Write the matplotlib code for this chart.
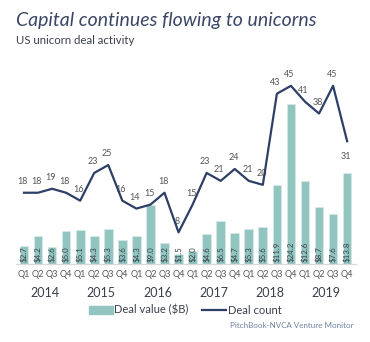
import numpy as np
import matplotlib
matplotlib.use("Agg")
import matplotlib.pyplot as plt
import matplotlib.transforms as mtransforms
from matplotlib.patches import Patch
from matplotlib.lines import Line2D

years = ["2014", "2015", "2016", "2017", "2018", "2019"]
quarters = ["Q1", "Q2", "Q3", "Q4"] * len(years)
deal_value = [2.7, 4.2, 2.6, 5.0, 5.1, 4.3, 5.3, 3.6, 4.3, 9.0, 3.2, 1.5,
              2.0, 4.6, 6.5, 4.7, 5.3, 5.6, 11.9, 24.2, 12.6, 8.7, 7.6, 13.8]
deal_count = [18, 18, 19, 18, 16, 23, 25, 16, 14, 15, 18, 8,
              15, 23, 21, 24, 21, 20, 43, 45, 41, 38, 45, 31]

BAR = "#92c4c0"
LINE = "#2d3f66"
TEXT = "#3a3f4a"

plt.rcParams["font.family"] = ["Lato", "DejaVu Sans"]

fig = plt.figure(figsize=(3.7, 3.42), dpi=100)
ax = fig.add_axes([0.042, 0.228, 0.919, 0.579])
ax2 = ax.twinx()

x = np.arange(len(deal_value))
ax.bar(x, deal_value, width=0.62, color=BAR, edgecolor="#d8ecea", linewidth=0.4, zorder=2)
for xi, v in zip(x, deal_value):
    ax.text(xi, 0.3, f"${v:.1f}", rotation=90, ha="center", va="bottom",
            fontsize=5.8, color=TEXT, zorder=3)

ax2.plot(x, deal_count, color=LINE, lw=1.6, zorder=4)
for i, (xi, c) in enumerate(zip(x, deal_count)):
    dy = -11 if i == len(deal_count) - 1 else 8
    ax2.annotate(str(c), (xi, c), xytext=(-1, dy), textcoords="offset points",
                 ha="center", va="center", fontsize=6.5, color="#555555")

ax.set_xlim(-0.6, len(x) - 0.4)
ax.set_ylim(0, 30)
ax2.set_ylim(0, 50)
ax.set_xticks(x)
ax.set_xticklabels(quarters, fontsize=6.6, color="#555555")
ax.tick_params(axis="x", length=0, pad=4)
ax.set_yticks([])
ax2.set_yticks([])
for a in (ax, ax2):
    for s in ("top", "left", "right"):
        a.spines[s].set_visible(False)
    a.spines["bottom"].set_color("#d9d9d9")
    a.spines["bottom"].set_linewidth(0.8)
    a.patch.set_visible(False)

trans = mtransforms.blended_transform_factory(ax.transData, ax.transAxes)
for k, yr in enumerate(years):
    ax.text(4 * k + 1.5, -0.147, yr, transform=trans, ha="center", va="center",
            fontsize=9, color=TEXT)

handles = [Patch(color=BAR), Line2D([], [], color=LINE, lw=1.6)]
fig.legend(handles, ["Deal value ($B)", "Deal count"], loc="center",
           bbox_to_anchor=(0.5, 0.093), ncol=2, frameon=False, fontsize=8,
           handlelength=2.2, handletextpad=0.1, columnspacing=1.2, labelcolor=TEXT)

fig.text(0.043, 0.925, "Capital continues flowing to unicorns", fontsize=14,
         style="italic", color="#3b4766", va="baseline")
fig.text(0.043, 0.87, "US unicorn deal activity", fontsize=8.2, color=TEXT, va="baseline")
fig.text(0.955, 0.04, "PitchBook-NVCA Venture Monitor", fontsize=5.8, color="#6e82a3",
         ha="right", va="baseline")

fig.savefig("out.png", dpi=100)
